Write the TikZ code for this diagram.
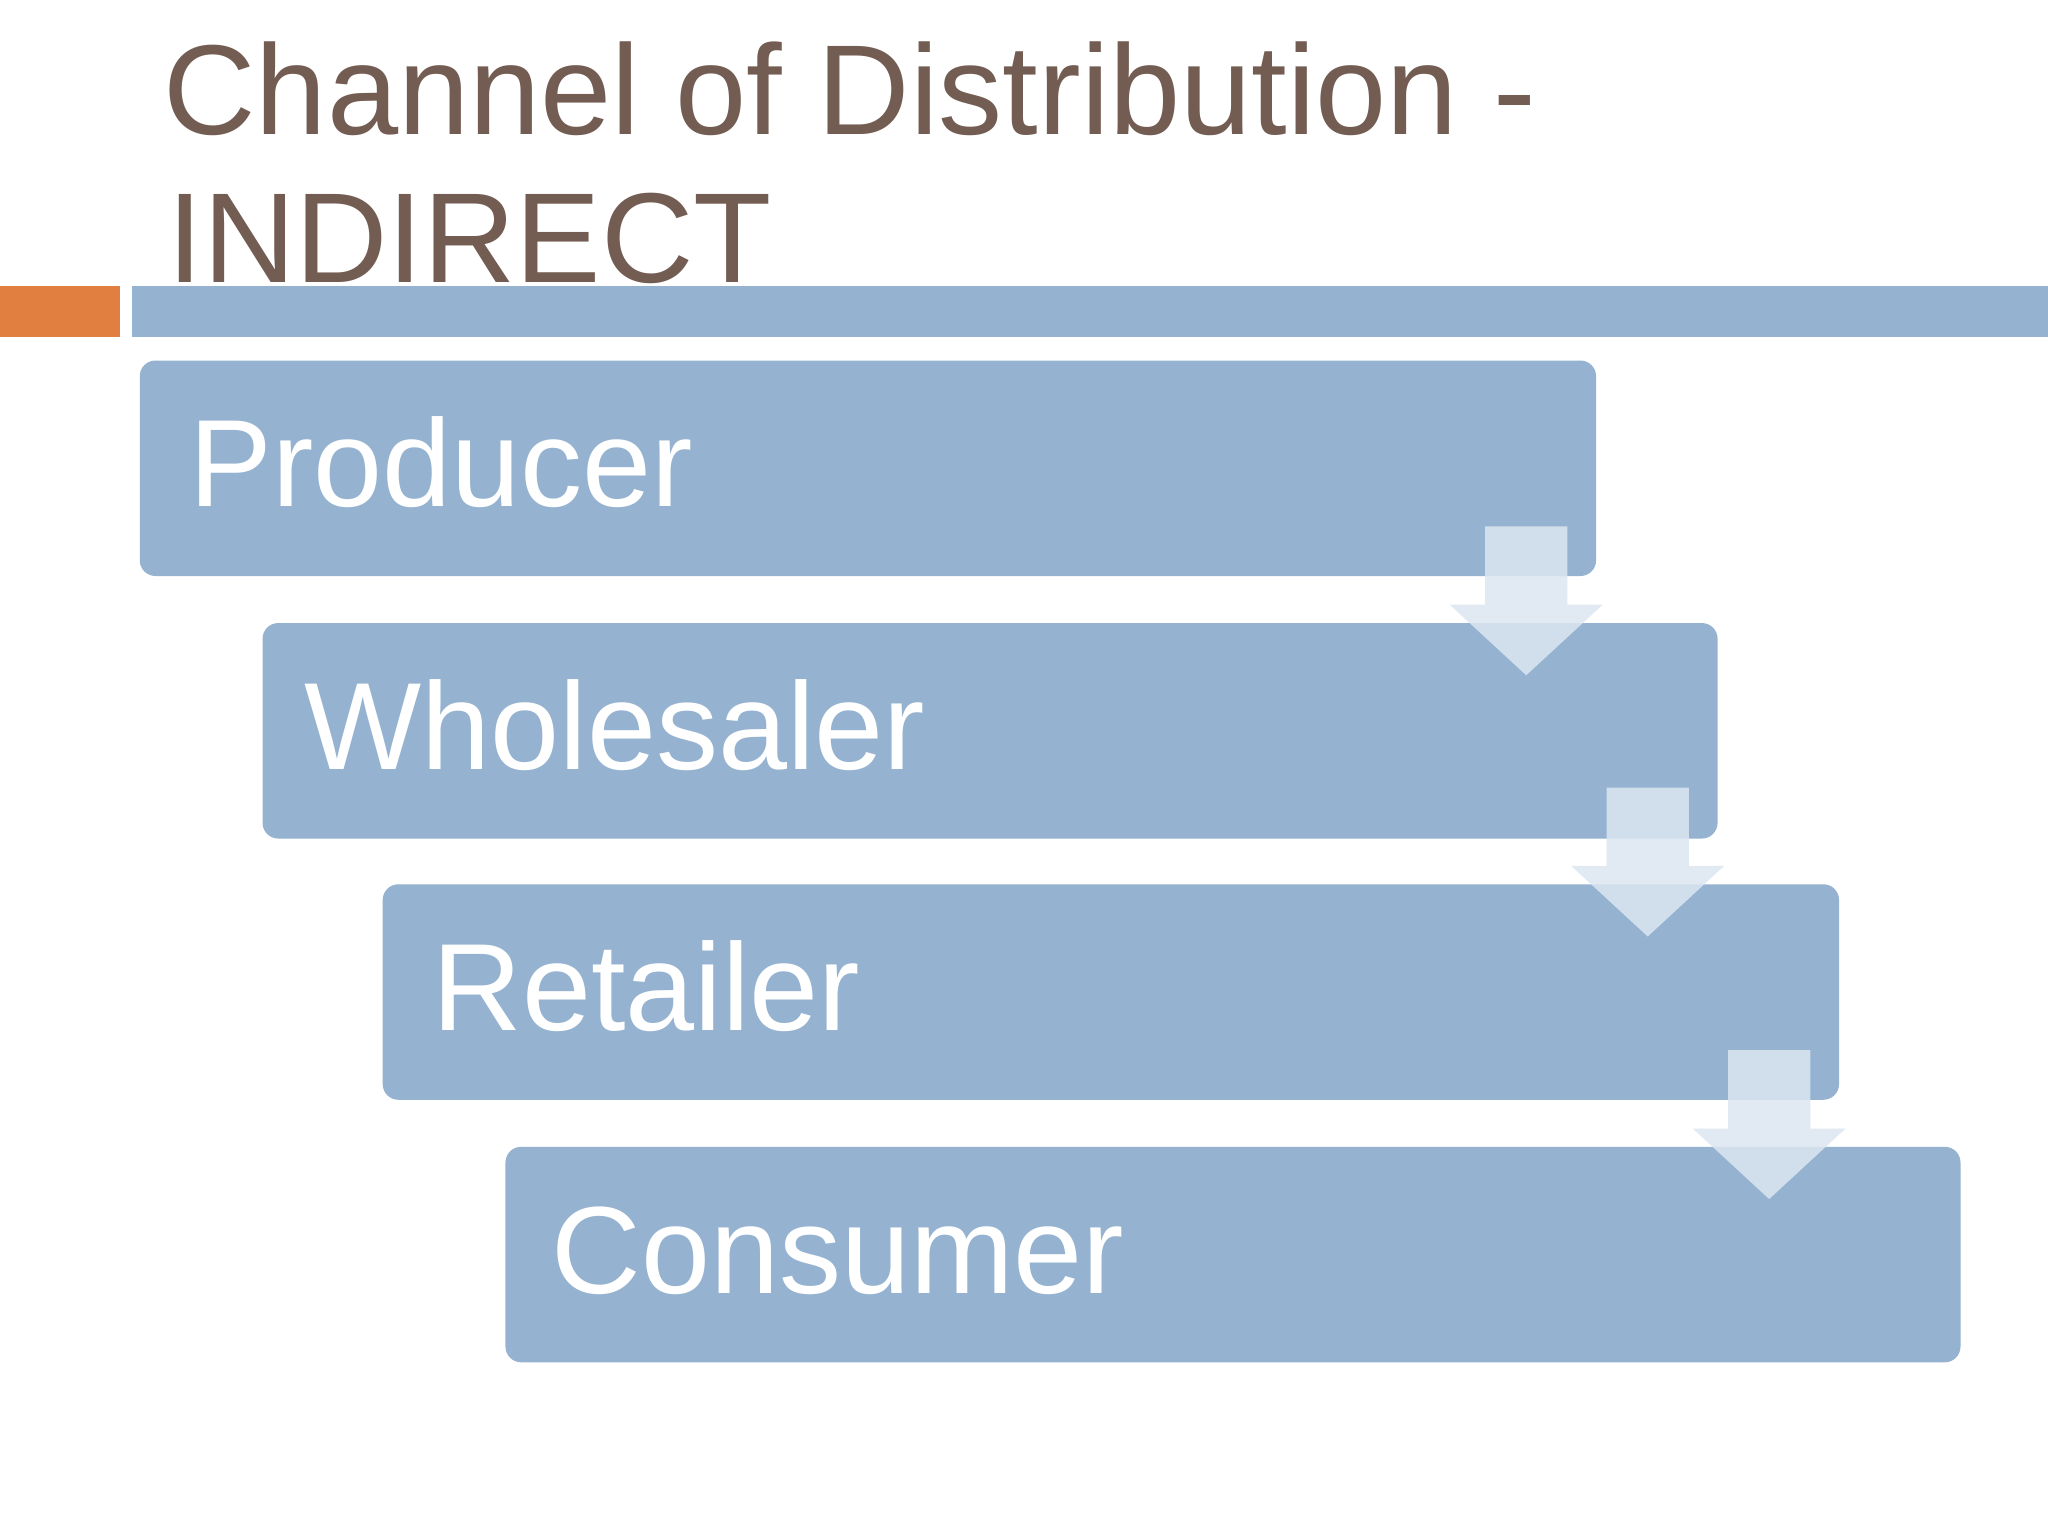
\documentclass[tikz,border=0pt]{standalone}
\usepackage{fontspec}
\setmainfont{Liberation Sans}
\definecolor{boxblue}{HTML}{95B3D0}
\definecolor{titlebrown}{HTML}{735C52}
\definecolor{accent}{HTML}{E07F3F}
\definecolor{arrowc}{HTML}{DCE6F0}
\tikzset{
 stage/.style={fill=boxblue,rounded corners=12pt},
 stagetext/.style={anchor=base west,text=white,inner sep=0pt,font=\fontsize{95}{95}\selectfont},
 flow/.style={fill=arrowc,fill opacity=0.85},
}
\begin{document}
\begin{tikzpicture}[x=1pt,y=-1pt]
\useasboundingbox (0,0) rectangle (1568,1176);
\fill[white] (0,0) rectangle (1568,1176);
\node[anchor=base west,inner sep=0pt,text=titlebrown,font=\fontsize{98}{98}\selectfont] (t1) at (125,103) {Channel of Distribution -};
\node[anchor=base west,inner sep=0pt,text=titlebrown,font=\fontsize{98}{98}\selectfont] (t2) at (128,216) {INDIRECT};
\fill[accent] (0,219) rectangle (92,258);
\fill[boxblue] (101,219) rectangle (1568,258);
\fill[stage] (107,276) rectangle (1222,441);
\fill[stage] (201,477) rectangle (1315,642);
\fill[stage] (293,677) rectangle (1408,842);
\fill[stage] (387,878) rectangle (1501,1043);
\node[stagetext] (p) at (145,388) {Producer};
\node[stagetext] (w) at (233,589) {Wholesaler};
\node[stagetext] (r) at (331,789) {Retailer};
\node[stagetext] (c) at (422,990) {Consumer};
\foreach \dx/\dy in {0/0,93/200,186/401}{
 \fill[flow] (1137+\dx,403+\dy) -- (1200+\dx,403+\dy) -- (1200+\dx,463+\dy) -- (1227+\dx,463+\dy) -- (1168.5+\dx,517+\dy) -- (1110+\dx,463+\dy) -- (1137+\dx,463+\dy) -- cycle;
}
\end{tikzpicture}
\end{document}
